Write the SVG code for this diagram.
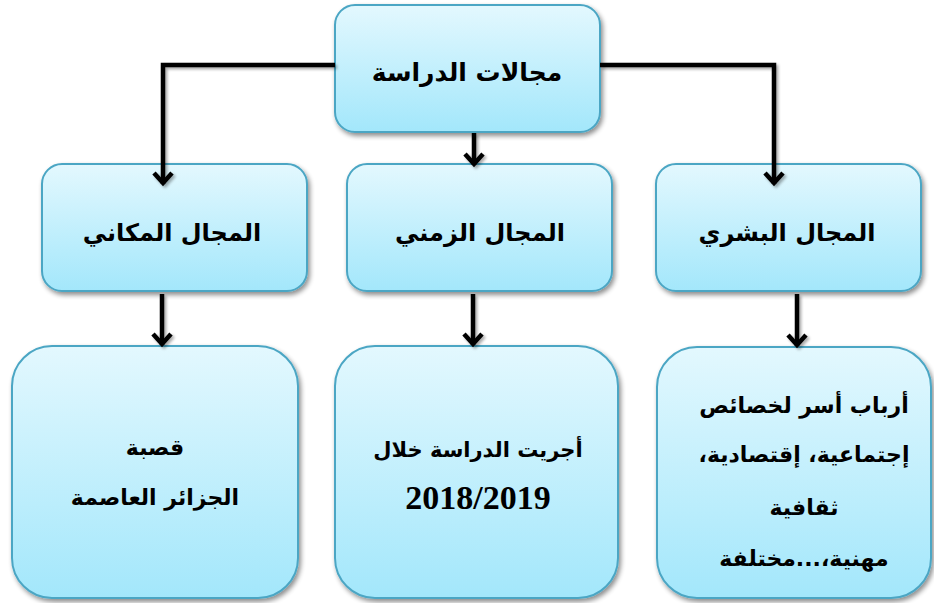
<svg xmlns="http://www.w3.org/2000/svg" width="934" height="603" viewBox="0 0 934 603">
<defs>
<linearGradient id="g" x1="0" y1="0" x2="0" y2="1">
<stop offset="0" stop-color="#e3f8fe"/>
<stop offset="1" stop-color="#a3e7fb"/>
</linearGradient>
<filter id="sh" x="-10%" y="-10%" width="125%" height="125%">
<feGaussianBlur in="SourceAlpha" stdDeviation="2.5"/>
<feOffset dx="2" dy="3"/>
<feComponentTransfer><feFuncA type="linear" slope="0.45"/></feComponentTransfer>
<feMerge><feMergeNode/><feMergeNode in="SourceGraphic"/></feMerge>
</filter>
<filter id="shc" filterUnits="userSpaceOnUse" x="0" y="0" width="934" height="603">
<feGaussianBlur in="SourceAlpha" stdDeviation="1.5"/>
<feOffset dx="2" dy="2"/>
<feComponentTransfer><feFuncA type="linear" slope="0.35"/></feComponentTransfer>
<feMerge><feMergeNode/><feMergeNode in="SourceGraphic"/></feMerge>
</filter>
<marker id="ah" markerUnits="userSpaceOnUse" viewBox="0 0 24 24" refX="21" refY="12" markerWidth="24" markerHeight="24" orient="auto">
<polyline points="10,3 20,12 10,21" fill="none" stroke="#000" stroke-width="4.5" stroke-linejoin="miter"/>
</marker>
</defs>
<style>
.box{fill:url(#g);stroke:#4ba6c4;stroke-width:2;filter:url(#sh)}
.t{font-family:"DejaVu Sans","Noto Sans","Liberation Sans",sans-serif;font-weight:bold;fill:#000;text-anchor:middle;direction:rtl}
.ts{font-family:"Liberation Serif","DejaVu Serif",serif;font-weight:bold;fill:#000;text-anchor:middle}
.c{fill:none;stroke:#000;stroke-width:4.5}
</style>
<g id="root">
<rect class="box" x="335" y="5" width="265" height="127" rx="20"/>
<text class="t" x="467" y="81" font-size="25">مجالات الدراسة</text>
</g>
<g id="spatial">
<rect class="box" x="42" y="164" width="265" height="127" rx="20"/>
<text class="t" x="172" y="241" font-size="24">المجال المكاني</text>
</g>
<g id="temporal">
<rect class="box" x="347" y="164" width="265" height="127" rx="20"/>
<text class="t" x="480" y="241" font-size="24">المجال الزمني</text>
</g>
<g id="human">
<rect class="box" x="656" y="164" width="265" height="127" rx="20"/>
<text class="t" x="787" y="241" font-size="24">المجال البشري</text>
</g>
<g id="place">
<rect class="box" x="12" y="346" width="286" height="252" rx="40"/>
<text class="t" x="155" y="455" font-size="22">قصبة</text>
<text class="t" x="155" y="505" font-size="22">الجزائر العاصمة</text>
</g>
<g id="time">
<rect class="box" x="335" y="346" width="283" height="252" rx="40"/>
<text class="t" x="478" y="457" font-size="21">أجريت الدراسة خلال</text>
<text class="ts" x="478" y="509" font-size="34">2018/2019</text>
</g>
<g id="people">
<rect class="box" x="657" y="347" width="274" height="251" rx="40"/>
<text class="t" x="804" y="413" font-size="22">أرباب أسر لخصائص</text>
<text class="t" x="804" y="462" font-size="22">إجتماعية، إقتصادية،</text>
<text class="t" x="804" y="515" font-size="22">ثقافية</text>
<text class="t" x="804" y="566" font-size="22">مهنية،...مختلفة</text>
</g>
<g id="connectors" filter="url(#shc)">
<polyline class="c" points="335,65 163,65 163,184" marker-end="url(#ah)"/>
<polyline class="c" points="600,65 774,65 774,184" marker-end="url(#ah)"/>
<line class="c" x1="474" y1="133" x2="474" y2="165" marker-end="url(#ah)"/>
<line class="c" x1="162" y1="294" x2="162" y2="345" marker-end="url(#ah)"/>
<line class="c" x1="473" y1="294" x2="473" y2="345" marker-end="url(#ah)"/>
<line class="c" x1="797" y1="294" x2="797" y2="346" marker-end="url(#ah)"/>
</g>
</svg>
